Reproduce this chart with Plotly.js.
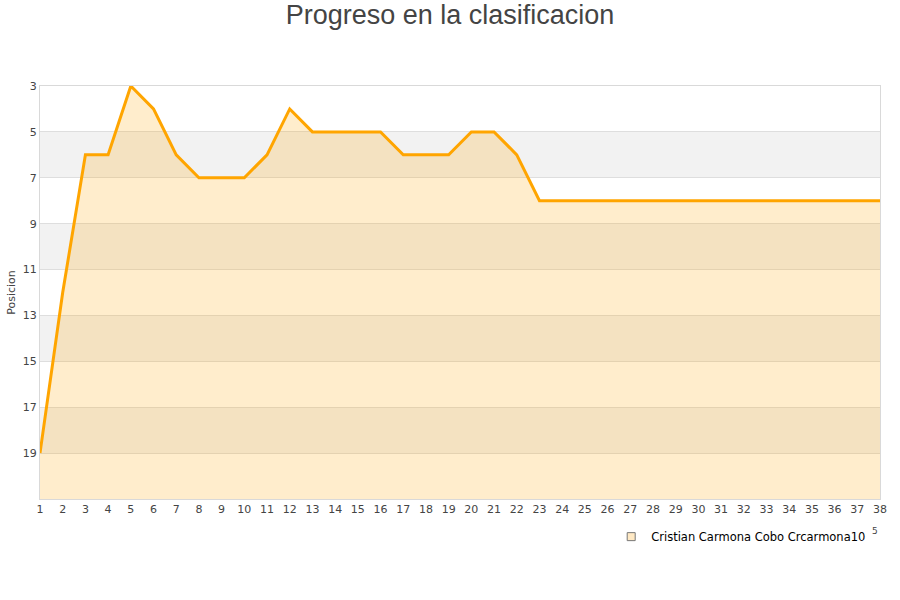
<!DOCTYPE html>
<html>
<head>
<meta charset="utf-8">
<script src="https://cdn.plot.ly/plotly-3.0.1.min.js"></script>
<style>body{margin:0;padding:0;background:#fff;}#chart{width:900px;height:600px;}</style>
</head>
<body>
<div id="chart"></div>
<script>
const jornadas = [1,2,3,4,5,6,7,8,9,10,11,12,13,14,15,16,17,18,19,20,21,22,23,24,25,26,27,28,29,30,31,32,33,34,35,36,37,38];
const posiciones = [19,12,6,6,3,4,6,7,7,7,6,4,5,5,5,5,6,6,6,5,5,6,8,8,8,8,8,8,8,8,8,8,8,8,8,8,8,8];
const serieNombre = 'Cristian Carmona Cobo Crcarmona10';
const yTicks = [3,5,7,9,11,13,15,17,19];
const yMin = 3, yMax = 21;
const bandas = [[5,7],[9,11],[13,15],[17,19]];

const base = {
  x: jornadas, y: jornadas.map(() => yMax), type: 'scatter', mode: 'lines',
  line: {width: 0, color: 'rgba(0,0,0,0)'}, showlegend: false, hoverinfo: 'skip'
};
const serie = {
  x: jornadas, y: posiciones, type: 'scatter', mode: 'lines', name: serieNombre,
  line: {color: '#ffa500', width: 3}, fill: 'tonexty', fillcolor: 'rgba(255,165,0,0.2)',
  showlegend: false
};
const leyenda = {
  x: [null], y: [null], type: 'scatter', mode: 'markers', name: serieNombre,
  marker: {symbol: 'square', size: 8, color: '#ffe9c4', line: {color: '#777', width: 1}},
  showlegend: true
};

const shapes = bandas.map(b => ({
  type: 'rect', xref: 'paper', yref: 'y', x0: 0, x1: 1, y0: b[0], y1: b[1],
  fillcolor: '#f2f2f2', line: {width: 0}, layer: 'below'
}));

const layout = {
  width: 900, height: 600,
  margin: {l: 40, r: 20, t: 86, b: 101},
  paper_bgcolor: '#fff', plot_bgcolor: '#fff',
  title: {text: 'Progreso en la clasificacion', font: {family: 'Liberation Sans, Arial, sans-serif', size: 27, color: '#444'}, x: 0.5, xanchor: 'center', y: 0.975, yanchor: 'middle'},
  font: {family: 'DejaVu Sans, sans-serif', size: 11, color: '#444'},
  xaxis: {
    range: [1, 38], tickmode: 'array', tickvals: jornadas, ticktext: jornadas.map(String),
    showgrid: false, zeroline: false, showline: true, linecolor: '#d9d9d9', linewidth: 1, mirror: true,
    ticks: '', tickfont: {size: 11, color: '#444'}
  },
  yaxis: {
    range: [yMax, yMin], tickmode: 'array', tickvals: yTicks, ticktext: yTicks.map(String),
    showgrid: true, gridcolor: '#dedede', gridwidth: 1, zeroline: false,
    showline: true, linecolor: '#d9d9d9', linewidth: 1, mirror: true,
    ticks: '', tickfont: {size: 11, color: '#444'},
    title: {text: 'Posicion', font: {size: 11, color: '#444'}, standoff: 4}
  },
  shapes: shapes,
  showlegend: true,
  legend: {orientation: 'h', x: 0.68, xanchor: 'left', y: -0.056, yanchor: 'top', font: {size: 11.5, color: '#000'}, bgcolor: 'rgba(0,0,0,0)'},
  annotations: [{text: '5', xref: 'paper', yref: 'paper', x: (875-40)/840, y: (499-531)/413, xanchor: 'center', yanchor: 'middle', showarrow: false, font: {size: 9, color: '#444'}}]
};

Plotly.newPlot('chart', [base, serie, leyenda], layout, {displayModeBar: false, staticPlot: true});
</script>
</body>
</html>
